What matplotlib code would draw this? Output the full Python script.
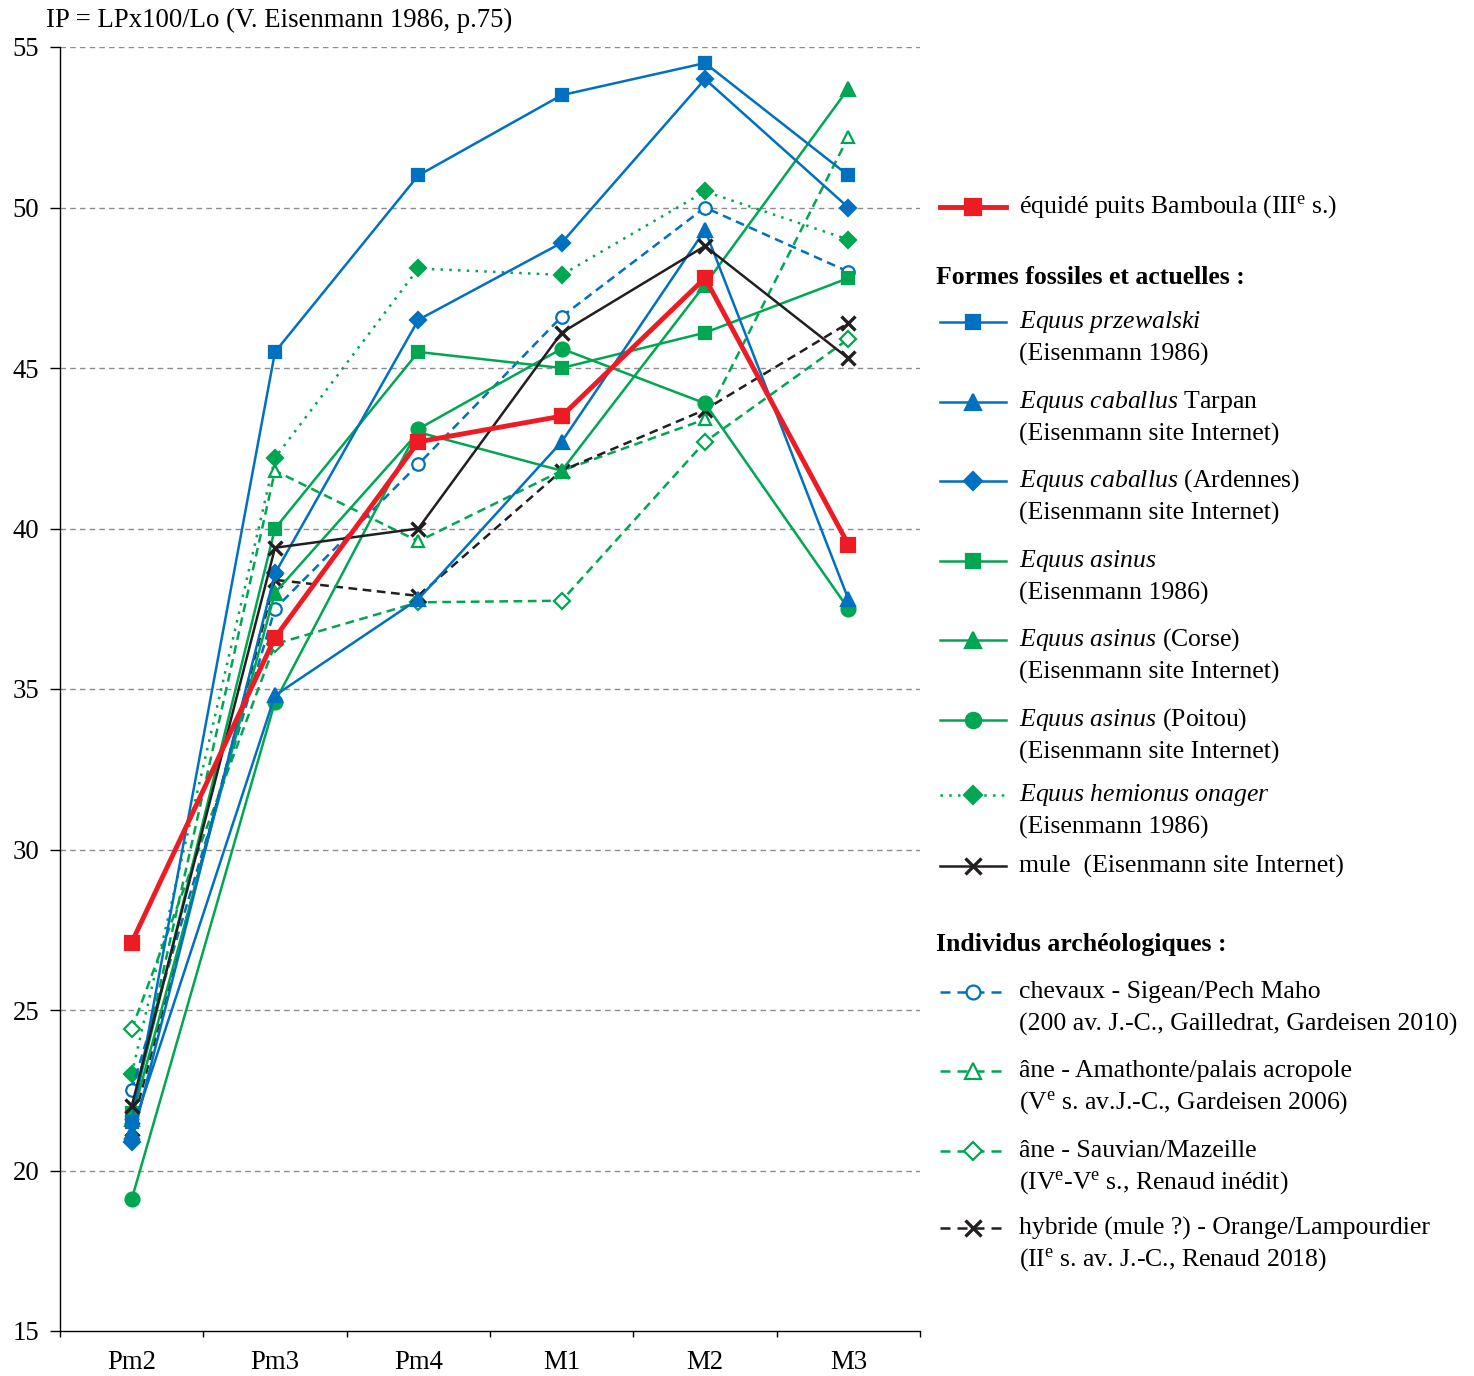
import matplotlib
matplotlib.use('Agg')
import matplotlib.pyplot as plt
from matplotlib.lines import Line2D
from matplotlib.ticker import FixedLocator

plt.rcParams['font.family'] = 'Liberation Serif'
plt.rcParams['mathtext.fontset'] = 'custom'
plt.rcParams['mathtext.rm'] = 'Liberation Serif'
plt.rcParams['mathtext.it'] = 'Liberation Serif:italic'
plt.rcParams['mathtext.bf'] = 'Liberation Serif:bold'

# donnees IP par dent
dents = ['Pm2', 'Pm3', 'Pm4', 'M1', 'M2', 'M3']
bamboula = [27.1, 36.6, 42.7, 43.5, 47.8, 39.5]
przewalski = [21.5, 45.5, 51.0, 53.5, 54.5, 51.0]
tarpan = [21.2, 34.8, 37.8, 42.7, 49.3, 37.8]
ardennes = [20.9, 38.6, 46.5, 48.9, 54.0, 50.0]
asinus = [21.8, 40.0, 45.5, 45.0, 46.1, 47.8]
corse = [21.6, 38.0, 43.0, 41.8, 47.6, 53.7]
poitou = [19.1, 34.6, 43.1, 45.6, 43.9, 37.5]
hemionus = [23.0, 42.2, 48.1, 47.9, 50.5, 49.0]
mule = [22.0, 39.4, 40.0, 46.1, 48.8, 45.3]
chevaux = [22.5, 37.5, 42.0, 46.6, 50.0, 48.0]
amathonte = [21.8, 41.8, 39.6, 41.8, 43.4, 52.2]
sauvian = [24.4, 36.4, 37.7, 37.75, 42.7, 45.9]
hybride = [21.3, 38.4, 37.9, 41.8, 43.7, 46.4]

BLUE = '#0070C0'
GREEN = '#00A651'
RED = '#ED1C24'
BLACK = '#231F20'
DASH = (0, (3.5, 2.2))
DASH_LEG = (0, (4, 2.8))
DOT = (0, (1, 2.5))
FS = 19.3
FS_LEG = 18.5

W, H = 1474, 1376
fig = plt.figure(figsize=(W / 100, H / 100), dpi=100)
ax = fig.add_axes([60 / W, 1 - 1331 / H, (920 - 60) / W, (1331 - 47) / H])

x = list(range(len(dents)))

# (valeurs, couleur, style, marqueur, plein, taille, epaisseur)
series = [
    (sauvian, GREEN, DASH, 'D', False, 8, 1.8),
    (amathonte, GREEN, DASH, '^', False, 9, 1.8),
    (hemionus, GREEN, DOT, 'D', True, 8, 1.8),
    (hybride, BLACK, DASH, 'x', True, 10, 1.8),
    (chevaux, BLUE, DASH, 'o', False, 9, 1.8),
    (poitou, GREEN, '-', 'o', True, 10, 1.8),
    (corse, GREEN, '-', '^', True, 10, 1.8),
    (asinus, GREEN, '-', 's', True, 9, 1.8),
    (tarpan, BLUE, '-', '^', True, 10, 1.8),
    (ardennes, BLUE, '-', 'D', True, 8, 1.8),
    (przewalski, BLUE, '-', 's', True, 9, 1.8),
    (mule, BLACK, '-', 'x', True, 10, 1.8),
    (bamboula, RED, '-', 's', True, 10, 3.5),
]

for vals, c, ls, m, filled, ms, lw in series:
    ax.plot(x, vals, color=c, linestyle=ls, linewidth=lw, marker=m,
            markersize=ms, markerfacecolor=c if filled else 'white',
            markeredgecolor=c, markeredgewidth=1.6 if m != 'x' else 2.4,
            clip_on=False)

ax.set_xlim(-0.5, 5.5)
ax.set_ylim(15, 55)
ax.set_yticks(range(15, 56, 5))
ax.set_xticks(x)
ax.set_xticklabels(dents)
ax.xaxis.set_minor_locator(FixedLocator([i - 0.5 for i in range(7)]))
ax.tick_params(axis='x', which='major', length=0, pad=14, labelsize=FS)
ax.tick_params(axis='x', which='minor', length=4, width=1, direction='out')
ax.tick_params(axis='y', length=7, width=1, direction='out', pad=8, labelsize=FS)
for s in ['top', 'right']:
    ax.spines[s].set_visible(False)
for s in ['left', 'bottom']:
    ax.spines[s].set_linewidth(1)
for yv in range(20, 56, 5):
    ax.axhline(yv, color='#8C8C8C', linewidth=1, linestyle=(0, (4, 3)), zorder=0)

fig.text(46 / W, 1 - 20 / H, 'IP = LPx100/Lo (V. Eisenmann 1986, p.75)',
         fontsize=FS, ha='left', va='center')


# legende manuelle
def fx(px):
    return px / W


def fy(py):
    return 1 - py / H


def entry(py, c, ls, m, filled, ms, lw, lines):
    fig.add_artist(Line2D([fx(940), fx(1006)], [fy(py), fy(py)], color=c,
                          linestyle=ls, linewidth=lw, transform=fig.transFigure))
    fig.add_artist(Line2D([fx(973)], [fy(py)], color=c, marker=m, markersize=ms,
                          markerfacecolor=c if filled else 'white', markeredgecolor=c,
                          markeredgewidth=1.6 if m != 'x' else 2.4,
                          transform=fig.transFigure))
    for i, t in enumerate(lines):
        fig.text(fx(1019), fy(py + i * 32), t, fontsize=FS_LEG, ha='left', va='center')


entry(207, RED, '-', 's', True, 11, 3.5, [r'équidé puits Bamboula (III$^{\mathrm{e}}$ s.)'])
fig.text(fx(936), fy(278), 'Formes fossiles et actuelles :', fontsize=FS_LEG,
         fontweight='bold', ha='left', va='center')
entry(322, BLUE, '-', 's', True, 10, 1.8,
      [r'$\mathit{Equus\ przewalski}$', '(Eisenmann 1986)'])
entry(402, BLUE, '-', '^', True, 11, 1.8,
      [r'$\mathit{Equus\ caballus}$ Tarpan', '(Eisenmann site Internet)'])
entry(481, BLUE, '-', 'D', True, 9, 1.8,
      [r'$\mathit{Equus\ caballus}$ (Ardennes)', '(Eisenmann site Internet)'])
entry(561, GREEN, '-', 's', True, 10, 1.8,
      [r'$\mathit{Equus\ asinus}$', '(Eisenmann 1986)'])
entry(640, GREEN, '-', '^', True, 11, 1.8,
      [r'$\mathit{Equus\ asinus}$ (Corse)', '(Eisenmann site Internet)'])
entry(720, GREEN, '-', 'o', True, 11, 1.8,
      [r'$\mathit{Equus\ asinus}$ (Poitou)', '(Eisenmann site Internet)'])
entry(795, GREEN, DOT, 'D', True, 9, 1.8,
      [r'$\mathit{Equus\ hemionus\ onager}$', '(Eisenmann 1986)'])
entry(866, BLACK, '-', 'x', True, 11, 1.8, ['mule  (Eisenmann site Internet)'])
fig.text(fx(936), fy(945), 'Individus archéologiques :', fontsize=FS_LEG,
         fontweight='bold', ha='left', va='center')
entry(992, BLUE, DASH_LEG, 'o', False, 10, 1.8,
      ['chevaux - Sigean/Pech Maho', '(200 av. J.-C., Gailledrat, Gardeisen 2010)'])
entry(1071, GREEN, DASH_LEG, '^', False, 11, 1.8,
      ['âne - Amathonte/palais acropole', r'(V$^{\mathrm{e}}$ s. av.J.-C., Gardeisen 2006)'])
entry(1151, GREEN, DASH_LEG, 'D', False, 9, 1.8,
      ['âne - Sauvian/Mazeille', r'(IV$^{\mathrm{e}}$-V$^{\mathrm{e}}$ s., Renaud inédit)'])
entry(1228, BLACK, DASH_LEG, 'x', True, 11, 1.8,
      ['hybride (mule ?) - Orange/Lampourdier', r'(II$^{\mathrm{e}}$ s. av. J.-C., Renaud 2018)'])

fig.savefig('out.png', dpi=100)
